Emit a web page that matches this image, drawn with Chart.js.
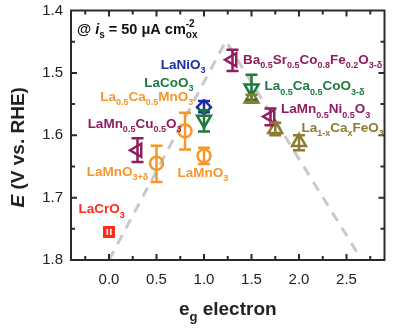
<!DOCTYPE html>
<html><head><meta charset="utf-8">
<script src="https://cdn.jsdelivr.net/npm/chart.js@4/dist/chart.umd.min.js"></script>
<style>html,body{margin:0;padding:0;background:#fff}#wrap{width:395px;height:333px;position:relative}</style>
</head><body><div id="wrap"><canvas id="c"></canvas></div>
<script>
// ---------- data ----------
const seriesNames = ['LaCrO3','LaMn0.5Cu0.5O3','LaMnO3+d','La0.5Ca0.5MnO3','LaMnO3','LaNiO3','LaCoO3','BSCF','La0.5Ca0.5CoO3-d','LaMn0.5Ni0.5O3','La1-xCaxFeO3'];
const egValues   = [[0.0],[0.3],[0.5],[0.8],[1.0],[1.0],[1.0],[1.3],[1.5],[1.7],[1.5,1.75,2.0]];
const potentials = [[1.755],[1.624],[1.645],[1.593],[1.633],[1.555],[1.575],[1.479],[1.525],[1.570],[1.541,1.590,1.611]];
const errLow     = [[1.753],[1.605],[1.617],[1.564],[1.620],[1.545],[1.560],[1.463],[1.503],[1.557],[1.535,1.580,1.600]];
const errHigh    = [[1.757],[1.643],[1.675],[1.623],[1.646],[1.563],[1.594],[1.497],[1.543],[1.584],[1.548,1.600,1.624]];
const volcanoX = [0.0, 1.23, 2.62];
const volcanoY = [1.80, 1.449, 1.79];
const xTicks = [0.0, 0.5, 1.0, 1.5, 2.0, 2.5];
const yTicks = [1.4, 1.5, 1.6, 1.7, 1.8];
const seriesLabels = ['LaCrO_{3}','LaMn_{0.5}Cu_{0.5}O_{3}','LaMnO_{3+δ}','La_{0.5}Ca_{0.5}MnO_{3}','LaMnO_{3}','LaNiO_{3}','LaCoO_{3}',
  'Ba_{0.5}Sr_{0.5}Co_{0.8}Fe_{0.2}O_{3-δ}','La_{0.5}Ca_{0.5}CoO_{3-δ}','LaMn_{0.5}Ni_{0.5}O_{3}','La_{1-x}Ca_{x}FeO_{3}'];
const annotationText = '@ *i*_{s} = 50 μA cm^{-2}_{ox}';
const xTitle = 'e_{g} electron';
const yTitle = '*E* (V vs. RHE)';

// ---------- styles ----------
const FONT = '"Liberation Sans", Arial, Helvetica, sans-serif';
const PURPLE='#8f1d5f', ORANGE='#f7962a', GREEN='#1c7a3e', BLUE='#1c2f9c', RED='#ff2b1c', OLIVE='#8d7b30';
const seriesColors = [RED,PURPLE,ORANGE,ORANGE,ORANGE,BLUE,GREEN,PURPLE,GREEN,PURPLE,OLIVE];
const seriesShapes = ['img','triangle','circle','circle','circle','rectRot','triangle','triangle','triangle','triangle','triangle'];
const seriesRot    = [0,-90,0,0,0,0,180,-90,180,-90,0];
const seriesRad    = [6,7.5,6.5,6.5,6.5,7,8,7.5,8,7.5,8];
// label anchors (data coordinates, left/baseline)
const labelAnchors = [[-0.32,1.725],[-0.225,1.588],[-0.235,1.665],[-0.093,1.545],[0.72,1.667],[0.545,1.493],[0.37,1.522],
  [1.41,1.486],[1.636,1.528],[1.81,1.565],[2.027,1.594]];

// red square marker with white "II"
function makeSquare(){
  const c=document.createElement('canvas'); c.width=12; c.height=12; const g=c.getContext('2d');
  g.fillStyle=RED; g.fillRect(0,0,12,12); g.fillStyle='#fff'; g.fillRect(3.5,3,1.6,6); g.fillRect(7,3,1.6,6); return c;
}
const sq = makeSquare();

const datasets = seriesNames.map((n,i)=>({
  label:n,
  data: egValues[i].map((x,j)=>({x:x,y:potentials[i][j]})),
  pointStyle: seriesShapes[i]==='img'? sq : seriesShapes[i],
  rotation: seriesRot[i],
  pointRadius: seriesRad[i],
  borderColor: seriesColors[i],
  backgroundColor: 'rgba(0,0,0,0)',
  borderWidth: 2.5,
  showLine:false,
  errIndex:i
}));
datasets.push({label:'volcano', data: volcanoX.map((x,i)=>({x:x,y:volcanoY[i]})), showLine:true, pointRadius:0,
  borderColor:'#c9c9c9', borderWidth:3, borderDash:[10,8], fill:false});

// ---------- rich text ----------
function parseRich(s){const out=[];const re=/_\{([^}]*)\}|\^\{([^}]*)\}|\*([^*]*)\*|([^_^*]+)/g;let m;
  while((m=re.exec(s))){ if(m[1]!==undefined)out.push({t:m[1],k:'sub'}); else if(m[2]!==undefined)out.push({t:m[2],k:'sup'});
    else if(m[3]!==undefined)out.push({t:m[3],k:'it'}); else out.push({t:m[4],k:'n'});} return out;}
function fontFor(p,size,bold){const b=bold?'bold ':''; const ss=Math.round(size*0.66);
  if(p.k==='it')return 'italic '+b+size+'px '+FONT; if(p.k==='sub'||p.k==='sup')return b+ss+'px '+FONT; return b+size+'px '+FONT;}
function layoutRich(ctx,parts,size,bold){let x=0;const pos=[];let lastSupW=0;
  parts.forEach((p,i)=>{ctx.font=fontFor(p,size,bold);const w=ctx.measureText(p.t).width;
    if(p.k==='sub' && i>0 && parts[i-1].k==='sup'){ const start=x-lastSupW; pos.push(start); x=start+Math.max(w,lastSupW); }
    else { pos.push(x); x+=w; }
    if(p.k==='sup') lastSupW=w; });
  return {pos,width:x};}
function drawRich(ctx,x,y,s,size,color,bold,align){const parts=parseRich(s);const L=layoutRich(ctx,parts,size,bold);
  let x0=x; if(align==='center')x0=x-L.width/2;
  ctx.fillStyle=color; ctx.textBaseline='alphabetic'; ctx.textAlign='left';
  parts.forEach((p,i)=>{ctx.font=fontFor(p,size,bold);let dy=0; if(p.k==='sub')dy=size*0.32; if(p.k==='sup')dy=-size*0.42;
    ctx.fillText(p.t,x0+L.pos[i],y+dy);});}

// ---------- plugins ----------
const errPlugin={id:'err',afterDatasetsDraw(chart){const ctx=chart.ctx;const xs=chart.scales.x, ys=chart.scales.y;
  ctx.save();ctx.lineWidth=2.5;ctx.lineCap='butt';
  chart.data.datasets.forEach(ds=>{ if(ds.errIndex===undefined||ds.errIndex===0)return; const i=ds.errIndex;
    ctx.strokeStyle=seriesColors[i];
    egValues[i].forEach((xv,j)=>{const px=xs.getPixelForValue(xv); const y1=ys.getPixelForValue(errLow[i][j]); const y2=ys.getPixelForValue(errHigh[i][j]);
      ctx.beginPath();ctx.moveTo(px,y1);ctx.lineTo(px,y2);ctx.moveTo(px-6,y1);ctx.lineTo(px+6,y1);ctx.moveTo(px-6,y2);ctx.lineTo(px+6,y2);ctx.stroke();});});
  ctx.restore();}};

const framePlugin={id:'frame',afterDraw(chart){const ctx=chart.ctx;const a=chart.chartArea;const xs=chart.scales.x, ys=chart.scales.y;
  ctx.save();ctx.strokeStyle='#2a2a2a';ctx.lineWidth=2;
  ctx.strokeRect(a.left,a.top,a.right-a.left,a.bottom-a.top);
  const xMinor=[]; xTicks.forEach(t=>{xMinor.push(t+0.25);}); xMinor.push(xTicks[0]-0.25);
  const yMinor=[]; yTicks.slice(0,-1).forEach(t=>yMinor.push(t+0.05));
  ctx.beginPath();
  const tx=(v,len)=>{const p=xs.getPixelForValue(v); if(p<a.left+1||p>a.right-1)return; ctx.moveTo(p,a.bottom);ctx.lineTo(p,a.bottom-len);ctx.moveTo(p,a.top);ctx.lineTo(p,a.top+len);};
  const ty=(v,len)=>{const p=ys.getPixelForValue(v); if(p<a.top+1||p>a.bottom-1)return; ctx.moveTo(a.left,p);ctx.lineTo(a.left+len,p);ctx.moveTo(a.right,p);ctx.lineTo(a.right-len,p);};
  xTicks.forEach(v=>tx(v,6)); xMinor.forEach(v=>tx(v,4)); yTicks.forEach(v=>ty(v,6)); yMinor.forEach(v=>ty(v,4));
  ctx.stroke();
  // labels
  labelAnchors.forEach((p,i)=>{drawRich(ctx,xs.getPixelForValue(p[0]),ys.getPixelForValue(p[1]),seriesLabels[i],13.5,seriesColors[i],true,'left');});
  drawRich(ctx,a.left+6,a.top+23,annotationText,14.5,'#111',true,'left');
  drawRich(ctx,(a.left+a.right)/2,315,xTitle,19,'#222',true,'center');
  ctx.translate(24,(a.top+a.bottom)/2+12); ctx.rotate(-Math.PI/2);
  drawRich(ctx,0,0,yTitle,19,'#222',true,'center');
  ctx.restore();}};

new Chart(document.getElementById('c'),{
  type:'scatter',
  data:{datasets},
  options:{responsive:true,maintainAspectRatio:false,animation:false,
    layout:{padding:{left:0,right:3,top:8,bottom:0}},
    plugins:{legend:{display:false},tooltip:{enabled:false}},
    scales:{
      x:{type:'linear',min:-0.4,max:2.9,grid:{display:false,drawTicks:false},border:{display:false},
        afterBuildTicks:s=>{s.ticks=xTicks.map(v=>({value:v}));},
        afterFit:s=>{s.height=73;s.paddingLeft=0;s.paddingRight=0;},
        ticks:{padding:11,color:'#222',font:{family:FONT,size:15},callback:v=>Number(v).toFixed(1)}},
      y:{type:'linear',reverse:true,min:1.4,max:1.8,grid:{display:false,drawTicks:false},border:{display:false},
        afterBuildTicks:s=>{s.ticks=yTicks.map(v=>({value:v}));},
        afterFit:s=>{s.width=71;s.paddingTop=0;s.paddingBottom=0;},
        ticks:{padding:8,color:'#222',font:{family:FONT,size:15},callback:v=>Number(v).toFixed(1)}}
    }},
  plugins:[errPlugin,framePlugin]
});
</script></body></html>
